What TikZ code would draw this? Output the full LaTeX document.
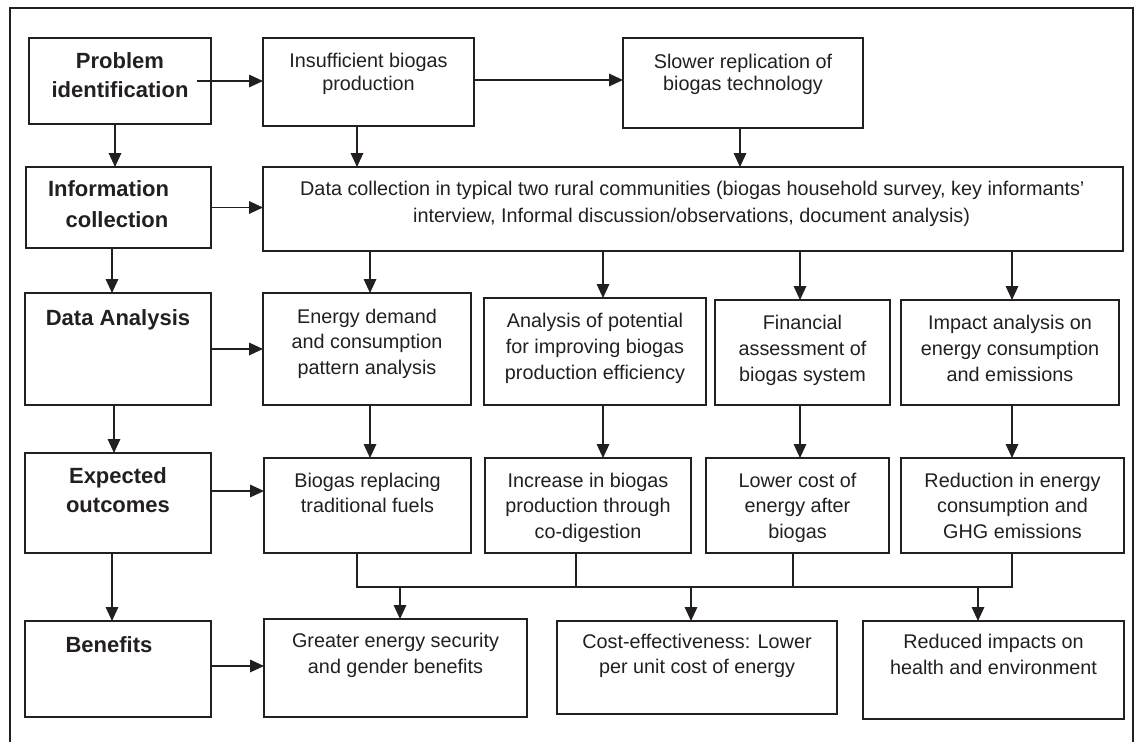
\documentclass[tikz,border=0pt]{standalone}
\usepackage{fontspec}
\setmainfont{Liberation Sans}
\usetikzlibrary{arrows.meta,fit}
\definecolor{ink}{RGB}{35,31,32}
\begin{document}
\begin{tikzpicture}[x=1pt,y=-1pt,
  box/.style={draw=ink, line width=1.4pt, inner sep=0pt, outer sep=0pt},
  txt/.style={inner sep=0pt, align=center, text=ink, anchor=north},
  nfont/.style={font=\fontsize{19.8}{#1}\selectfont},
  head/.style={inner sep=0pt, align=center, text=ink, anchor=north,
    font=\bfseries\fontsize{22}{#1}\selectfont},
  conn/.style={draw=ink, line width=1.7pt},
  arr/.style={conn, -{Triangle[length=14pt,width=12.5pt]}}]
\useasboundingbox (0,0) rectangle (1140,742);

% outer frame
\draw[ink, line width=2.4pt] (10,742) -- (10,8) -- (1133,8) -- (1133,742);

% stage column
\node[box, fit={(29,38)(211,124)}] (prob) {};
\node[head=29] (probT) at (120,52) {Problem\\identification};
\node[box, fit={(26,167)(211,248)}] (info) {};
\node[head=31] (infoT) at (117,180) {\makebox[138pt][l]{Information}\\collection};
\node[box, fit={(25,293)(211,405)}] (da) {};
\node[head=29] (daT) at (118,309) {Data Analysis};
\node[box, fit={(25,453)(211,553)}] (eo) {};
\node[head=29] (eoT) at (118,467) {Expected\\outcomes};
\node[box, fit={(25,621)(211,717)}] (ben) {};
\node[head=29] (benT) at (109,636) {Benefits};

% row 1
\node[box, fit={(263,38)(474,126)}] (ins) {};
\node[txt, nfont=22.5] (insT) at (368.5,53) {Insufficient biogas\\production};
\node[box, fit={(623,38)(863,128)}] (slo) {};
\node[txt, nfont=22.5] (sloT) at (743,53.5) {Slower replication of\\biogas technology};

% row 2
\node[box, fit={(263,167)(1123,251)}] (dc) {};
\node[txt, nfont=27, anchor=north west, align=left] (dcT) at (300,180.5)
  {Data collection in typical two rural communities (biogas household survey, key informants'\\
   \hspace*{113pt}interview, Informal discussion/observations, document analysis)};

% row 3
\node[box, fit={(263,293)(471,405)}] (en) {};
\node[txt, nfont=25.5] (enT) at (367,308.5) {Energy demand\\and consumption\\pattern analysis};
\node[box, fit={(484,298)(706,405)}] (ana) {};
\node[txt, nfont=26] (anaT) at (595,312.5) {Analysis of potential\\for improving biogas\\production efficiency};
\node[box, fit={(715,300)(890,405)}] (fin) {};
\node[txt, nfont=26] (finT) at (802.5,314.5) {Financial\\assessment of\\biogas system};
\node[box, fit={(901,300)(1119,405)}] (imp) {};
\node[txt, nfont=26] (impT) at (1010,314.5) {Impact analysis on\\energy consumption\\and emissions};

% row 4
\node[box, fit={(264,458)(471,553)}] (rep) {};
\node[txt, nfont=25] (repT) at (367.5,472.5) {Biogas replacing\\traditional fuels};
\node[box, fit={(485,458)(691,553)}] (inc) {};
\node[txt, nfont=25.5] (incT) at (588,472.5) {Increase in biogas\\production through\\co-digestion};
\node[box, fit={(706,458)(889,553)}] (low) {};
\node[txt, nfont=25.5] (lowT) at (797.5,472.5) {Lower cost of\\energy after\\biogas};
\node[box, fit={(901,458)(1124,553)}] (red) {};
\node[txt, nfont=25.5] (redT) at (1012.5,472.5) {Reduction in energy\\consumption and\\GHG emissions};

% row 5
\node[box, fit={(264,619)(527,717)}] (gre) {};
\node[txt, nfont=26] (greT) at (395.5,632.5) {Greater energy security\\and gender benefits};
\node[box, fit={(557,621)(837,714)}] (cos) {};
\node[txt, nfont=25] (cosT) at (697,633.5) {Cost-effectiveness: Lower\\per unit cost of energy};
\node[box, fit={(863,621)(1124,719)}] (rdi) {};
\node[txt, nfont=26.5] (rdiT) at (993.5,633.5) {Reduced impacts on\\health and environment};

% stage column links
\draw[arr] ([xshift=-5]prob.south) -- ([xshift=-5]prob.south |- info.north);
\draw[arr] ([xshift=-6.5]info.south) -- ([xshift=-6.5]info.south |- da.north);
\draw[arr] ([xshift=-4]da.south) -- ([xshift=-4]da.south |- eo.north);
\draw[arr] ([xshift=-6]eo.south) -- ([xshift=-6]eo.south |- ben.north);

% stage to row links
\draw[arr] ([xshift=-14]prob.east) -- (prob.east -| ins.west);
\draw[arr] (info.east) -- (info.east -| dc.west);
\draw[arr] (da.east) -- (da.east -| en.west);
\draw[arr] ([yshift=12]eo.east) -- ([yshift=12]eo.east -| rep.west);
\draw[arr] ([yshift=3]ben.east) -- ([yshift=3]ben.east -| gre.west);

% row 1 links
\draw[arr] ([yshift=2]ins.east) -- ([yshift=2]ins.east -| slo.west);
\draw[arr] ([xshift=-11.5]ins.south) -- ([xshift=-11.5]ins.south |- dc.north);
\draw[arr] ([xshift=-3]slo.south) -- ([xshift=-3]slo.south |- dc.north);

% data collection to analyses
\draw[arr] ([xshift=3]en.north |- dc.south) -- ([xshift=3]en.north);
\draw[arr] ([xshift=8]ana.north |- dc.south) -- ([xshift=8]ana.north);
\draw[arr] ([xshift=-2.5]fin.north |- dc.south) -- ([xshift=-2.5]fin.north);
\draw[arr] ([xshift=2]imp.north |- dc.south) -- ([xshift=2]imp.north);

% analyses to outcomes
\draw[arr] ([xshift=3]en.south) -- ([xshift=3]en.south |- rep.north);
\draw[arr] ([xshift=8]ana.south) -- ([xshift=8]ana.south |- inc.north);
\draw[arr] ([xshift=-2.5]fin.south) -- ([xshift=-2.5]fin.south |- low.north);
\draw[arr] ([xshift=2]imp.south) -- ([xshift=2]imp.south |- red.north);

% outcomes bus to benefits
\coordinate (busy) at (0,587);
\draw[conn] ([xshift=-10.5]rep.south) -- ([xshift=-10.5]rep.south |- busy)
  -- ([xshift=-0.5]red.south |- busy) -- ([xshift=-0.5]red.south);
\draw[conn] ([xshift=-12]inc.south) -- ([xshift=-12]inc.south |- busy);
\draw[conn] ([xshift=-4.5]low.south) -- ([xshift=-4.5]low.south |- busy);
\draw[arr] ([xshift=4.5]gre.north |- busy) -- ([xshift=4.5]gre.north);
\draw[arr] ([xshift=-6]cos.north |- busy) -- ([xshift=-6]cos.north);
\draw[arr] ([xshift=-15.5]rdi.north |- busy) -- ([xshift=-15.5]rdi.north);
\end{tikzpicture}
\end{document}
